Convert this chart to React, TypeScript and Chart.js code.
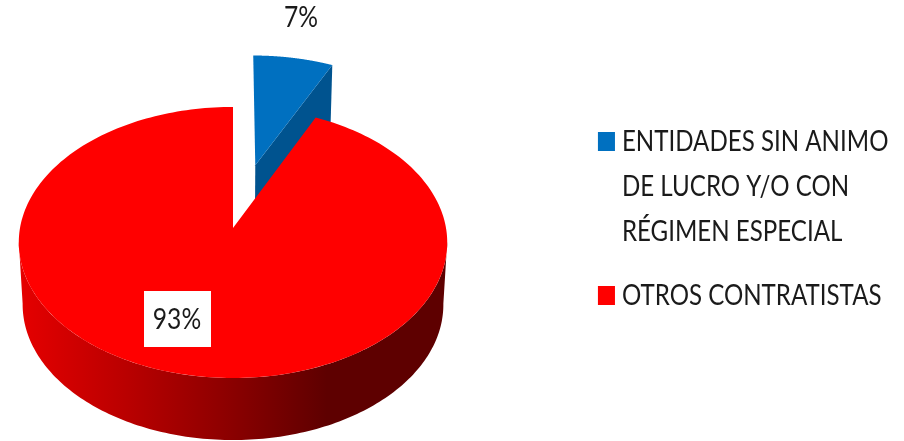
import React, { useEffect, useRef } from "react";
import { Chart, registerables } from "chart.js";

Chart.register(...registerables);

const categories: string[][] = [
  ["ENTIDADES SIN ANIMO", "DE LUCRO Y/O CON", "RÉGIMEN ESPECIAL"],
  ["OTROS CONTRATISTAS"],
];
const seriesValues = [7, 93];
const sliceColors = ["#0070C0", "#FF0000"];
const wallColors = ["#00538F", ""];
const explode = [0.505, 0];
const labelCenters = [
  [301, 18],
  [177, 320],
];
const labelBoxed = [false, true];
const FONT = 'Lato, "Liberation Sans", sans-serif';
const LABEL_SQUEEZE = 0.85;
const LEGEND_SQUEEZE = 0.831;
const LEGEND_LEFT = 603;

// Perspective view of the pie's disk
const CX = 233;
const CY = 228;
const RX = 213;
const PA = 109.6;
const PC = -0.107;
const DEPTH = 62;
const BASE_SCALE = 0.982;
const SILHOUETTE = 0.1;

const project = (u: number, v: number, low = false) => {
  const d = 1 + PC * v;
  let x = (RX * u) / d;
  let y = (PA * v + CY) / d;
  if (low) {
    x *= BASE_SCALE;
    y += DEPTH;
  }
  return [CX + x, y];
};

const pie3d = {
  id: "pie3d",
  beforeDraw(chart: any) {
    const legend = chart.legend;
    if (!legend || legend.__squeezed) return;
    legend.__squeezed = true;
    const draw = legend.draw;
    legend.draw = function (...args: any[]) {
      const c = chart.ctx;
      const left = legend.legendHitBoxes[0].left;
      c.save();
      c.translate(LEGEND_LEFT, 0);
      c.scale(LEGEND_SQUEEZE, 1);
      c.translate(-left, 0);
      draw.apply(this, args);
      c.restore();
    };
  },
  beforeDatasetsDraw(chart: any) {
    const { ctx } = chart;
    const meta = chart.getDatasetMeta(0);
    const redWall = ctx.createLinearGradient(18, 0, 447, 0);
    redWall.addColorStop(0, "#E60000");
    redWall.addColorStop(0.26, "#B80000");
    redWall.addColorStop(0.5, "#8A0000");
    redWall.addColorStop(0.72, "#5E0000");
    redWall.addColorStop(1, "#5E0000");

    const poly = (pts: number[][], fill: any) => {
      ctx.beginPath();
      pts.forEach(([x, y], i) => (i ? ctx.lineTo(x, y) : ctx.moveTo(x, y)));
      ctx.closePath();
      ctx.fillStyle = fill;
      ctx.fill();
    };

    meta.data.forEach((arc: any, i: number) => {
      const { startAngle: a0, endAngle: a1 } = arc.getProps(["startAngle", "endAngle"], true);
      const mid = (a0 + a1) / 2;
      const ox = Math.cos(mid) * explode[i];
      const oy = Math.sin(mid) * explode[i];
      const rim = (a: number, low = false) => project(ox + Math.cos(a), oy + Math.sin(a), low);
      const apex = (low = false) => project(ox, oy, low);
      const wall = wallColors[i] || redWall;

      // radial walls that face the viewer
      if (Math.cos(a1) > 0.05) poly([apex(), rim(a1), rim(a1, true), apex(true)], wall);
      if (-Math.cos(a0) > 0.05) poly([apex(), rim(a0), rim(a0, true), apex(true)], wall);

      // outer wall, front part only
      const from = Math.max(a0, SILHOUETTE);
      const to = Math.min(a1, Math.PI - SILHOUETTE);
      if (to > from) {
        const top: number[][] = [];
        const low: number[][] = [];
        for (let k = 0; k <= 160; k++) {
          const a = from + ((to - from) * k) / 160;
          top.push(rim(a));
          low.push(rim(a, true));
        }
        poly(top.concat(low.reverse()), wall);
      }

      // top face
      const face: number[][] = [apex()];
      for (let k = 0; k <= 240; k++) face.push(rim(a0 + ((a1 - a0) * k) / 240));
      poly(face, sliceColors[i]);
    });

    // value labels
    ctx.font = `29px ${FONT}`;
    ctx.textAlign = "center";
    ctx.textBaseline = "middle";
    seriesValues.forEach((v, i) => {
      const [x, y] = labelCenters[i];
      if (labelBoxed[i]) {
        ctx.fillStyle = "#FFFFFF";
        ctx.fillRect(x - 33, y - 29, 67, 56);
      }
      ctx.fillStyle = "#1A1A1A";
      ctx.save();
      ctx.translate(x, y);
      ctx.scale(LABEL_SQUEEZE, 1);
      ctx.fillText(`${v}%`, 0, 0);
      ctx.restore();
    });
    return false;
  },
};

export default function App() {
  const ref = useRef<HTMLCanvasElement>(null);
  useEffect(() => {
    const chart = new Chart(ref.current!, {
      type: "pie",
      data: {
        labels: categories as any,
        datasets: [
          {
            data: seriesValues,
            backgroundColor: sliceColors,
            borderColor: sliceColors,
            borderWidth: 12.2,
          },
        ],
      },
      options: {
        responsive: false,
        animation: false,
        layout: { padding: { top: 12 } },
        plugins: {
          tooltip: { enabled: false },
          legend: {
            position: "right",
            labels: {
              color: "#1A1A1A",
              boxWidth: 8.3,
              boxHeight: 6.8,
              padding: 19,
              font: { family: FONT, size: 29, lineHeight: 1.552 },
            },
          },
        },
      },
      plugins: [pie3d],
    });
    return () => chart.destroy();
  }, []);
  return (
    <div style={{ position: "fixed", left: 0, top: 0, width: 904, height: 441, background: "#fff" }}>
      <canvas ref={ref} width={904} height={441} style={{ display: "block" }} />
    </div>
  );
}
